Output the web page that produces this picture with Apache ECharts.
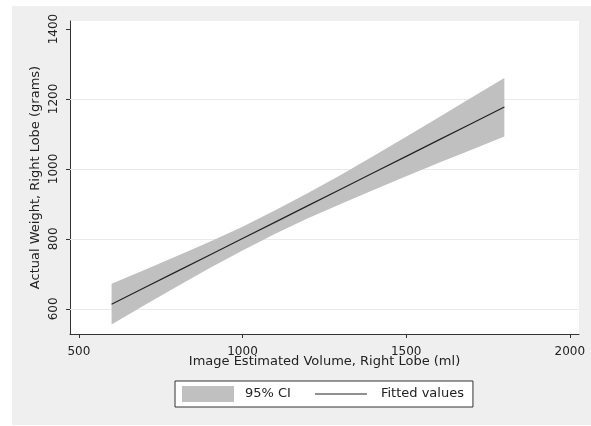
<!DOCTYPE html>
<html>
<head>
<meta charset="utf-8">
<script src="https://cdn.jsdelivr.net/npm/echarts@6/dist/echarts.min.js"></script>
<style>html,body{margin:0;padding:0;background:#fff;}#c{width:591px;height:426px;}</style>
</head>
<body>
<div id="c"></div>
<script>
var xValues = [600, 700, 800, 900, 1000, 1100, 1200, 1300, 1400, 1500, 1600, 1700, 1800];
var fitted  = [613, 660, 707, 754, 801, 848, 895, 942, 989, 1036, 1083, 1130, 1177];
var ciLower = [555, 610, 664, 717, 767, 815, 859, 900, 940, 979, 1018, 1055, 1093];
var ciUpper = [672, 711, 751, 792, 835, 882, 931, 983, 1037, 1092, 1148, 1204, 1260];
var xTicks = [500, 1000, 1500, 2000];
var yTicks = [600, 800, 1000, 1200, 1400];
var yGridValues = [600, 800, 1000, 1200];

var FONT = 'DejaVu Sans, sans-serif';
var chart = echarts.init(document.getElementById('c'));
function plain(v) { return String(Math.round(v)); }

var bandData = [0];
chart.setOption({
  backgroundColor: '#ffffff',
  animation: false,
  textStyle: {fontFamily: FONT},
  graphic: [{
    type: 'rect', z: -10, silent: true,
    shape: {x: 12, y: 6, width: 579, height: 419},
    style: {fill: '#efefef'}
  }],
  grid: {left: 70, top: 21, right: 12, bottom: 92, show: true, backgroundColor: '#ffffff', borderWidth: 0},
  xAxis: {
    type: 'value', min: 473, max: 2028,
    name: 'Image Estimated Volume, Right Lobe (ml)', nameLocation: 'middle', nameGap: 21,
    nameMoveOverlap: false,
    nameTextStyle: {fontSize: 13, color: '#222', fontFamily: FONT},
    axisLine: {show: true, onZero: false, lineStyle: {color: '#333', width: 1}},
    axisTick: {show: true, length: 4, customValues: xTicks, lineStyle: {color: '#333'}},
    axisLabel: {customValues: xTicks, formatter: plain, fontSize: 12, color: '#222', margin: 12, fontFamily: FONT},
    splitLine: {show: false}
  },
  yAxis: {
    type: 'value', min: 528, max: 1423,
    name: 'Actual Weight, Right Lobe (grams)', nameLocation: 'middle', nameGap: 28,
    nameMoveOverlap: false,
    nameTextStyle: {fontSize: 13, color: '#222', fontFamily: FONT},
    axisLine: {show: true, onZero: false, lineStyle: {color: '#333', width: 1}},
    axisTick: {show: true, length: 4, customValues: yTicks, lineStyle: {color: '#333'}},
    axisLabel: {customValues: yTicks, formatter: plain, rotate: 90, fontSize: 12, color: '#222', margin: 10, fontFamily: FONT},
    splitLine: {show: false}
  },
  legend: {
    left: 175, top: 381,
    orient: 'horizontal',
    backgroundColor: '#ffffff', borderColor: '#333', borderWidth: 1,
    padding: [5, 9, 5, 7],
    itemWidth: 52, itemHeight: 16, itemGap: 24,
    textStyle: {fontSize: 13, color: '#222', fontFamily: FONT},
    data: [
      {name: '95% CI', icon: 'rect', itemStyle: {color: '#c0c0c0'},
       textStyle: {padding: [0, 0, 0, 6]}},
      {name: 'Fitted values', icon: 'path://M0,0L52,0L52,1.2L0,1.2Z', itemStyle: {color: '#222'},
       textStyle: {padding: [0, 0, 0, 9]}}
    ]
  },
  series: [
    {
      name: '95% CI', type: 'custom', z: 2,
      itemStyle: {color: '#c0c0c0'},
      data: bandData,
      renderItem: function (params, api) {
        var pts = [];
        for (var i = 0; i < xValues.length; i++) pts.push(api.coord([xValues[i], ciUpper[i]]));
        for (var j = xValues.length - 1; j >= 0; j--) pts.push(api.coord([xValues[j], ciLower[j]]));
        return {type: 'polygon', shape: {points: pts}, style: {fill: '#c0c0c0'}};
      }
    },
    {
      name: 'Fitted values', type: 'line', z: 3,
      symbol: 'none', showSymbol: false,
      lineStyle: {color: '#222', width: 1.2},
      itemStyle: {color: '#222'},
      data: xValues.map(function (x, i) { return [x, fitted[i]]; }),
      markLine: {
        silent: true, symbol: 'none', z: 1,
        label: {show: false},
        lineStyle: {color: '#eaeaea', width: 1, type: 'solid'},
        data: yGridValues.map(function (v) { return {yAxis: v}; })
      }
    }
  ]
});
</script>
</body>
</html>
